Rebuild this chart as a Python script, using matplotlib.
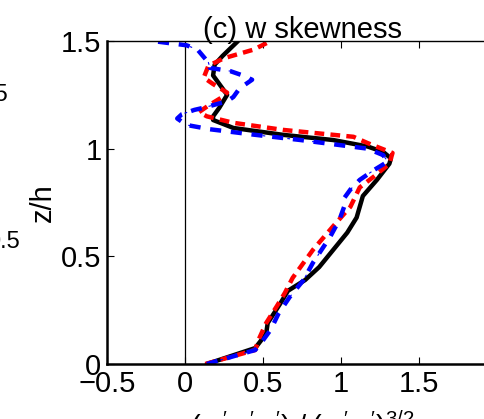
import matplotlib
matplotlib.use("Agg")
import matplotlib.pyplot as plt

plt.rcParams['font.family'] = ['Liberation Sans', 'DejaVu Sans']
plt.rcParams['mathtext.fontset'] = 'custom'
plt.rcParams['mathtext.rm'] = 'Liberation Sans'
plt.rcParams['mathtext.it'] = 'Liberation Sans'
plt.rcParams['lines.scale_dashes'] = False

# profiles of w skewness vs z/h
z_black = [0, 0.074, 0.14, 0.19, 0.28, 0.34, 0.39, 0.45, 0.53, 0.61, 0.68, 0.73, 0.78, 0.855,
           0.93, 0.955, 0.985, 1.01, 1.04, 1.064, 1.096, 1.133, 1.15, 1.19, 1.25, 1.30, 1.34,
           1.39, 1.43, 1.5]
x_black = [0.14, 0.45, 0.52, 0.53, 0.61, 0.66, 0.77, 0.86, 0.95, 1.04, 1.10, 1.12, 1.14, 1.23,
           1.31, 1.32, 1.27, 1.17, 0.95, 0.63, 0.31, 0.18, 0.18, 0.22, 0.27, 0.22, 0.18,
           0.19, 0.24, 0.34]

z_red = [0, 0.065, 0.11, 0.19, 0.27, 0.33, 0.40, 0.53, 0.64, 0.73, 0.82, 0.87, 0.93, 0.98,
         1.026, 1.055, 1.087, 1.12, 1.15, 1.17, 1.20, 1.24, 1.26, 1.30, 1.33, 1.385, 1.42,
         1.46, 1.5]
x_red = [0.13, 0.45, 0.47, 0.52, 0.59, 0.64, 0.69, 0.82, 0.95, 1.06, 1.12, 1.21, 1.31, 1.33,
         1.17, 1.08, 0.63, 0.31, 0.14, 0.09, 0.15, 0.24, 0.27, 0.18, 0.12, 0.15, 0.25,
         0.44, 0.55]

z_blue = [0, 0.065, 0.11, 0.16, 0.235, 0.31, 0.39, 0.47, 0.59, 0.67, 0.73, 0.77, 0.81, 0.855,
          0.90, 0.94, 0.97, 1.0, 1.04, 1.065, 1.09, 1.11, 1.14, 1.16, 1.18, 1.19, 1.22, 1.24,
          1.28, 1.32, 1.34, 1.36, 1.375, 1.40, 1.46, 1.48, 1.49, 1.5]
x_blue = [0.14, 0.45, 0.50, 0.55, 0.60, 0.67, 0.76, 0.82, 0.93, 0.99, 1.02, 1.02, 1.06, 1.12,
          1.21, 1.30, 1.27, 1.17, 0.74, 0.44, 0.16, 0.01, -0.05, -0.02, 0.06, 0.12, 0.27, 0.31,
          0.35, 0.43, 0.37, 0.29, 0.16, 0.15, 0.08, 0.01, -0.1, -0.21]

xticks = [-0.5, 0, 0.5, 1, 1.5, 2]
xticklabels = ['\u22120.5', '0', '0.5', '1', '1.5', '']
yticks = [0, 0.5, 1, 1.5]
yticklabels = ['0', '0.5', '1', '1.5']

fig = plt.figure(figsize=(4.84, 4.19), dpi=100)
ax = fig.add_axes([0.2211, 0.1313, 0.8058, 0.7709])

ax.axvline(0, color='black', lw=0.9)
ax.plot(x_black, z_black, color='black', lw=3.2, solid_capstyle='round')
ax.plot(x_red, z_red, color='red', lw=3.2, dashes=(7, 4.5))
ax.plot(x_blue, z_blue, color='blue', lw=3.2, dashes=(8, 7))
ax.plot(x_blue, z_blue, color='blue', lw=0.8, dashes=(0, 10, 2, 6))

ax.set_xlim(-0.5, 2)
ax.set_ylim(0, 1.5)
ax.set_xticks(xticks)
ax.set_yticks(yticks)
ax.set_xticklabels(xticklabels)
ax.set_yticklabels(yticklabels)
ax.tick_params(direction='in', top=True, right=True, labelsize=21, length=5, width=0.8, pad=4)
for s in ['left', 'bottom']:
    ax.spines[s].set_linewidth(1.8)
for s in ['top', 'right']:
    ax.spines[s].set_linewidth(1.0)

ax.set_title('(c) w skewness', fontsize=21, pad=2)
fig.text(43 / 484, 1 - 203 / 419, 'z/h', rotation=90, fontsize=21, ha='center', va='center')

# pieces of neighbouring labels clipped by the figure edge
fig.text(8 / 484, 1 - 95 / 419, '1.5', fontsize=17, ha='right', va='center')
fig.text(20 / 484, 1 - 242 / 419, '0.5', fontsize=17, ha='right', va='center')

# x label, mostly cut off by the bottom edge
fig.text(190 / 484, 1 - 408 / 419,
         r"$(w^{\prime}w^{\prime}w^{\prime})\;/\;(w^{\prime}w^{\prime})^{3/2}$",
         fontsize=21, ha='left', va='top')

fig.savefig('out.png', dpi=100)
